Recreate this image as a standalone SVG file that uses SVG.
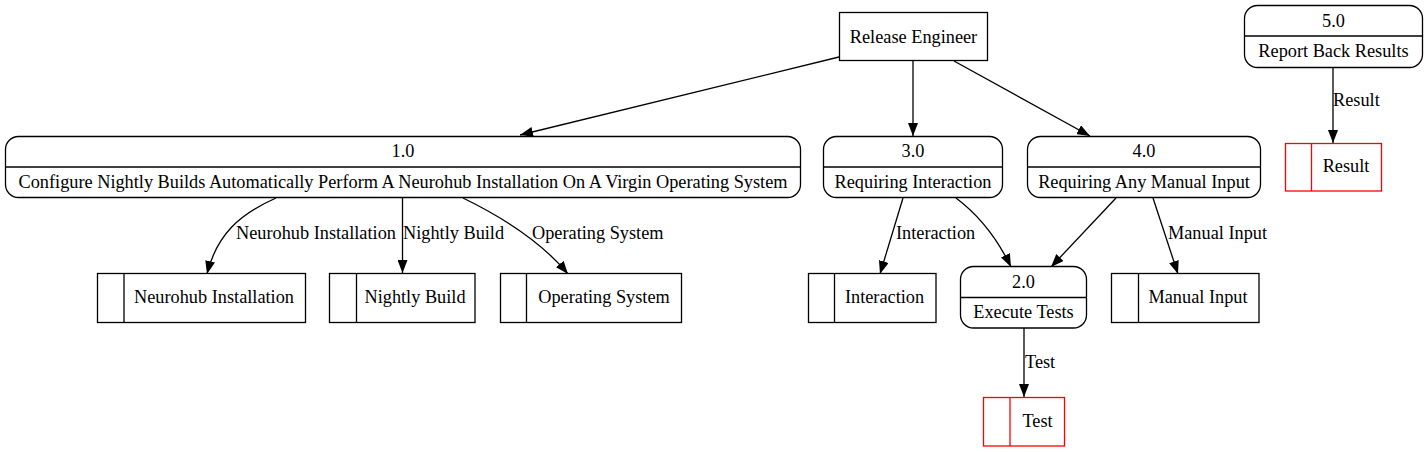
<svg xmlns="http://www.w3.org/2000/svg" width="1427" height="452" viewBox="0 0 1427 452">
<defs>
<marker id="ah" viewBox="0 0 13 10" refX="13" refY="5" markerWidth="13" markerHeight="10" orient="auto" markerUnits="userSpaceOnUse">
<path d="M0,0 L13,5 L0,10 z" fill="#000"/>
</marker>
<style>
text{font-family:"Liberation Serif","Times New Roman",serif;font-size:18.3px;fill:#000}
.c{text-anchor:middle}
.n{fill:#fff;stroke:#000;stroke-width:1.3}
.r{fill:#fff;stroke:#ff0000;stroke-width:1.3}
.e{fill:none;stroke:#000;stroke-width:1.3;marker-end:url(#ah)}
.l{stroke:#000;stroke-width:1.3}
.lr{stroke:#ff0000;stroke-width:1.3}
</style>
</defs>
<rect width="1427" height="452" fill="#fff"/>
<g id="connectors">
<path class="e" d="M839,57 L520,135"/>
<path class="e" d="M913,61 L913,136"/>
<path class="e" d="M954,61 L1090,136"/>
<path class="e" d="M276,198 C240,214 217,234 207,274"/>
<path class="e" d="M402.5,198 L402.5,273"/>
<path class="e" d="M463,198 C500,216 540,240 568,274"/>
<path class="e" d="M903,198 L880,274"/>
<path class="e" d="M956,198 C980,216 998,240 1011,267"/>
<path class="e" d="M1116,198 L1051,267"/>
<path class="e" d="M1153,198 L1178,274"/>
<path class="e" d="M1024,328 L1024,397"/>
<path class="e" d="M1333,67 L1333,143"/>
<text x="236" y="238.5">Neurohub Installation</text>
<text x="403" y="238.5">Nightly Build</text>
<text x="532" y="238.5">Operating System</text>
<text x="896" y="238.5">Interaction</text>
<text x="1168" y="238.5">Manual Input</text>
<text x="1025" y="367.5">Test</text>
<text x="1333" y="106">Result</text>
</g>
<g id="release_engineer">
<rect class="n" x="839.5" y="12.5" width="148" height="48"/>
<text class="c" x="913.5" y="42.5">Release Engineer</text>
</g>
<g id="p1">
<rect class="n" x="5.5" y="136.5" width="795" height="61" rx="13"/>
<line class="l" x1="5.5" y1="167" x2="800.5" y2="167"/>
<text class="c" x="403" y="157">1.0</text>
<text class="c" x="403" y="188">Configure Nightly Builds Automatically Perform A Neurohub Installation On A Virgin Operating System</text>
</g>
<g id="p3">
<rect class="n" x="823.5" y="136.5" width="179" height="61" rx="13"/>
<line class="l" x1="823.5" y1="167" x2="1002.5" y2="167"/>
<text class="c" x="913" y="157">3.0</text>
<text class="c" x="913" y="188">Requiring Interaction</text>
</g>
<g id="p4">
<rect class="n" x="1027.5" y="136.5" width="233" height="61" rx="13"/>
<line class="l" x1="1027.5" y1="167" x2="1260.5" y2="167"/>
<text class="c" x="1144" y="157">4.0</text>
<text class="c" x="1144" y="188">Requiring Any Manual Input</text>
</g>
<g id="p2">
<rect class="n" x="960.5" y="266.5" width="126" height="61.5" rx="13"/>
<line class="l" x1="960.5" y1="297.5" x2="1086.5" y2="297.5"/>
<text class="c" x="1023.5" y="288">2.0</text>
<text class="c" x="1023.5" y="318">Execute Tests</text>
</g>
<g id="p5">
<rect class="n" x="1244.5" y="5.5" width="178" height="62" rx="13"/>
<line class="l" x1="1244.5" y1="36" x2="1422.5" y2="36"/>
<text class="c" x="1333.5" y="26.5">5.0</text>
<text class="c" x="1333.5" y="57">Report Back Results</text>
</g>
<g id="ds_neurohub">
<rect class="n" x="97.5" y="273.5" width="208" height="49"/>
<line class="l" x1="124" y1="273.5" x2="124" y2="322.5"/>
<text class="c" x="214" y="303">Neurohub Installation</text>
</g>
<g id="ds_nightly">
<rect class="n" x="329.5" y="273.5" width="145.5" height="49"/>
<line class="l" x1="356.5" y1="273.5" x2="356.5" y2="322.5"/>
<text class="c" x="415" y="303">Nightly Build</text>
</g>
<g id="ds_os">
<rect class="n" x="500.5" y="273.5" width="181" height="49"/>
<line class="l" x1="526.5" y1="273.5" x2="526.5" y2="322.5"/>
<text class="c" x="604" y="303">Operating System</text>
</g>
<g id="ds_interaction">
<rect class="n" x="808.5" y="273.5" width="127.5" height="49"/>
<line class="l" x1="834.5" y1="273.5" x2="834.5" y2="322.5"/>
<text class="c" x="884.5" y="303">Interaction</text>
</g>
<g id="ds_manual">
<rect class="n" x="1111.5" y="273.5" width="147.5" height="49"/>
<line class="l" x1="1138.5" y1="273.5" x2="1138.5" y2="322.5"/>
<text class="c" x="1198" y="303">Manual Input</text>
</g>
<g id="ds_test">
<rect class="r" x="983.5" y="397.5" width="81" height="48.5"/>
<line class="lr" x1="1010" y1="397.5" x2="1010" y2="446"/>
<text class="c" x="1037.5" y="427">Test</text>
</g>
<g id="ds_result">
<rect class="r" x="1285.5" y="143.5" width="96" height="47.5"/>
<line class="lr" x1="1311.5" y1="143.5" x2="1311.5" y2="191"/>
<text class="c" x="1346" y="171.5">Result</text>
</g>
</svg>
